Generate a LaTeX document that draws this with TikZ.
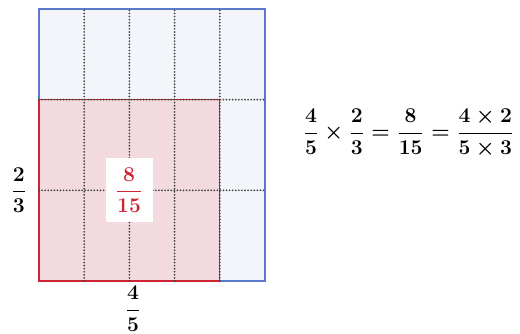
\documentclass[tikz,border=0pt]{standalone}
\usepackage{amsmath,amssymb}
\usepackage{tikz}
\usetikzlibrary{positioning, calc}
\usepackage{xcolor}
\definecolor{unitblue}{RGB}{88,122,200}
\definecolor{unitfill}{RGB}{243,245,250}
\definecolor{partred}{RGB}{206,36,52}
\definecolor{partfill}{RGB}{242,218,223}

\begin{document}
\begin{tikzpicture}[
    x=0.02cm, y=0.02cm,
    whole/.style={draw=unitblue, fill=unitfill, line width=0.8pt},
    part/.style={draw=partred, fill=partfill, line width=0.8pt},
    cut/.style={line width=1.1pt, line cap=round, dash pattern=on 0pt off 1.75pt, black!75},
    frac/.style={font=\fontsize{12.4}{15}\selectfont\boldmath, inner sep=1pt}
]
\useasboundingbox (0,0) rectangle (520,334);

\draw[whole] (39,53) rectangle (265,325);
\draw[part] (39,53) rectangle (219.2,234.7);

% fifths and thirds
\foreach \i in {1,...,4}
  \draw[cut] (39+45.2*\i,53) -- (39+45.2*\i,325);
\foreach \j in {1,2}
  \draw[cut] (39,53+90.67*\j) -- (265,53+90.67*\j);

\coordinate (mid) at (129.1,143.85);
\coordinate (redW) at (39,143.85);
\coordinate (redS) at (133,53);

\node[frac, fill=white, text=partred, minimum width=0.94cm, minimum height=1.28cm] (prod) at (mid) {$\dfrac{8}{15}$};
\node[frac, left=0.2cm of redW] (rows) {$\dfrac{2}{3}$};
\node[frac, below=0.06cm of redS] (cols) {$\dfrac{4}{5}$};

\node[frac] (eq) at (408.5,201) {$\dfrac{4}{5}\times\dfrac{2}{3}=\dfrac{8}{15}=\dfrac{4\times 2}{5\times 3}$};
\end{tikzpicture}
\end{document}
